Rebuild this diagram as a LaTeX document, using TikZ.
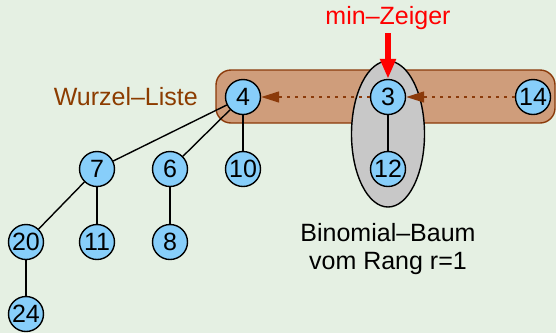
\documentclass[tikz,border=0pt]{standalone}
\usepackage{fontspec}
\setmainfont{Liberation Sans}
\usetikzlibrary{arrows.meta}
\definecolor{bgc}{RGB}{229,240,227}
\definecolor{nodec}{RGB}{135,206,250}
\definecolor{listfill}{RGB}{207,157,123}
\definecolor{listdraw}{RGB}{139,58,10}
\definecolor{listtext}{RGB}{140,60,0}
\definecolor{ellc}{RGB}{200,200,200}
\tikzset{
  heapnode/.style={circle, draw=black, line width=1.4pt, fill=nodec, minimum size=35pt, inner sep=0pt, font=\fontsize{25}{28}\selectfont},
  treeedge/.style={draw=black, line width=1.4pt},
  listarrow/.style={draw=listdraw, line width=1.5pt, dash pattern=on 3pt off 5pt, -{Triangle[length=18pt,width=11pt]}},
  lbl/.style={font=\fontsize{25}{28}\selectfont, inner sep=0pt}
}
\begin{document}
\begin{tikzpicture}[x=1pt,y=-1pt]
\fill[bgc] (0,0) rectangle (556,333);
\useasboundingbox (0,0) rectangle (556,333);
% root list band
\draw[fill=listfill, draw=listdraw, line width=1.4pt, rounded corners=15pt] (216,70) rectangle (555,123);
% binomial tree ellipse
\draw[fill=ellc, draw=black, line width=1.4pt] (388,134) ellipse [x radius=36.5, y radius=73];
% nodes
\node[heapnode] (n4) at (243,97) {4};
\node[heapnode] (n3) at (388,97) {3};
\node[heapnode] (n14) at (533,97) {14};
\node[heapnode] (n10) at (243,169) {10};
\node[heapnode] (n12) at (388,169) {12};
\node[heapnode] (n7) at (97,169) {7};
\node[heapnode] (n6) at (170,169) {6};
\node[heapnode] (n20) at (26,242) {20};
\node[heapnode] (n11) at (97,242) {11};
\node[heapnode] (n8) at (170,242) {8};
\node[heapnode] (n24) at (26,314) {24};
% tree edges
\draw[treeedge] (n4) -- (n7);
\draw[treeedge] (n4) -- (n6);
\draw[treeedge] (n4) -- (n10);
\draw[treeedge] (n7) -- (n20);
\draw[treeedge] (n7) -- (n11);
\draw[treeedge] (n6) -- (n8);
\draw[treeedge] (n20) -- (n24);
\draw[treeedge] (n3) -- (n12);
% list arrows
\draw[listarrow] (n3) -- (n4);
\draw[listarrow] (n14) -- (n3);
% labels
\node[lbl, text=listtext, anchor=east] (wl) at (198,97) {Wurzel\textendash Liste};
\node[lbl, text=red] (mz) at (388,18) {min\textendash Zeiger};
\coordinate (mzs) at (388,33);
\draw[red, line width=6pt, -{Triangle[length=20pt,width=15pt]}] (mzs) -- (n3);
\node[lbl, align=center] (bb) at (388,249) {Binomial\textendash Baum\\vom Rang r=1};
\end{tikzpicture}
\end{document}
